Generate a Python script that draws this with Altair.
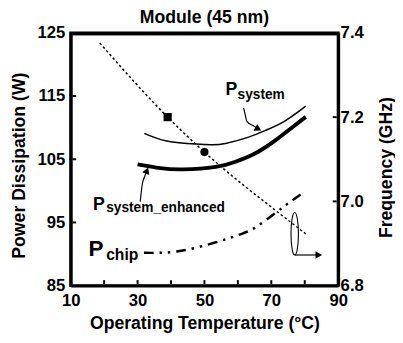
import altair as alt
import pandas as pd

FONT = "Liberation Sans"

# ---- series ----
sys_temp = [32.0, 38.7, 47.5, 52.0, 56.3, 63.2, 68.0, 73.9, 80.3]
sys_power = [109.1, 107.9, 107.4, 107.3, 107.5, 108.5, 109.5, 111.0, 113.4]

enh_temp = [30.0, 36.8, 43.6, 53.4, 59.3, 65.1, 71.0, 76.9, 80.3]
enh_power = [104.2, 103.6, 103.4, 103.8, 104.6, 105.9, 107.9, 110.3, 111.7]

chip_temp = [31.9, 41.7, 52.4, 61.2, 66.1, 71.5, 75.5, 80.0]
chip_power = [90.2, 90.4, 91.7, 93.2, 94.5, 96.6, 98.2, 99.9]

freq_temp = [18.7, 39.0, 50.0, 71.5, 80.3]
freq_ghz = [7.376, 7.200, 7.117, 6.977, 6.923]

marker_temp = [39.0, 50.0]
marker_ghz = [7.200, 7.117]
marker_shape = ["square", "circle"]

# ---- axis ranges and ticks ----
x_range = [10, 90]
p_range = [85, 125]
f_range = [6.8, 7.4]
x_ticks = [10, 30, 50, 70, 90]
p_ticks = [85, 95, 105, 115, 125]
f_ticks = [6.8, 7.0, 7.2, 7.4]

# inner tick marks (placed just inside the frame)
x_minor = [20.0, 30.0, 40.0, 50.0, 60.0, 70.0, 80.0]
x_minor_power = 85.25
p_minor = [95.0, 105.0, 115.0]
p_minor_temp = 10.45
f_minor = [7.0, 7.2]
f_minor_temp = 89.55

# top edge of the frame (kept just inside the plot range)
top_edge_temp = [10.3, 89.7]
top_edge_power = [124.85, 124.85]
top_edge_ghz = [7.398, 7.398]

# ---- annotation labels ----
lab_main = ["P", "P", "P"]
lab_main_temp = [56.3, 16.7, 15.3]
lab_main_power = [115.1, 97.0, 89.65]
lab_main_size = [18, 18, 23]
lab_sub = ["system", "system_enhanced", "chip"]
lab_sub_temp = [59.9, 20.6, 20.6]
lab_sub_power = [114.6, 96.7, 89.0]
lab_sub_size = [14, 14, 16]

# ---- annotation arrows ----
arr_sys_temp = [61.7, 62.0, 62.7, 64.6, 66.1]
arr_sys_power = [113.1, 112.5, 111.0, 110.3, 109.8]
arr_enh_temp = [30.8, 31.4, 32.3, 32.8]
arr_enh_power = [98.3, 101.0, 102.5, 103.2]
arr_freq_temp = [77.0, 84.2]
arr_freq_power = [89.85, 89.85]
head_temp = [66.1, 32.8, 84.2]
head_power = [109.8, 103.2, 89.85]
head_angle = [29, 291, 0]
ellipse_temp = [77.0]
ellipse_power = [93.2]

W, H = 273, 258

common_axis = dict(grid=False, domain=True, domainColor="black", domainWidth=3,
                   ticks=False, labelFontSize=17, labelFont=FONT, labelFontWeight="bold",
                   labelColor="black", labelOverlap=False,
                   titleFontSize=18, titleFont=FONT, titleFontWeight="bold",
                   titleColor="black")

x_axis = alt.Axis(values=x_ticks, title="Operating Temperature (°C)",
                  labelPadding=7, labelFlush=False, titleY=44,
                  titleBaseline="alphabetic", **common_axis)
x_scale = alt.Scale(domain=x_range, nice=False)
X = alt.X("t:Q", scale=x_scale, axis=x_axis)

p_axis = alt.Axis(values=p_ticks, orient="left", title="Power Dissipation (W)",
                  labelPadding=6, titleAngle=270, titleX=-47, titleY=135,
                  titleAlign="center", titleBaseline="alphabetic", **common_axis)
YP = alt.Y("p:Q", scale=alt.Scale(domain=p_range, nice=False), axis=p_axis)

f_axis = alt.Axis(values=f_ticks, orient="right", title="Frequency (GHz)", format=".1f",
                  labelPadding=2, titleAngle=270, titleX=54, titleY=137,
                  titleAlign="center", titleBaseline="alphabetic", **common_axis)
YF = alt.Y("f:Q", scale=alt.Scale(domain=f_range, nice=False), axis=f_axis)


def pdf(t, p, **kw):
    d = {"t": t, "p": p}
    d.update(kw)
    return pd.DataFrame(d)


top_line = alt.Chart(pdf(top_edge_temp, top_edge_power)).mark_line(
    color="black", strokeWidth=3, strokeCap="square", opacity=1).encode(x=X, y=YP)

x_minor_ticks = alt.Chart(pdf(x_minor, [x_minor_power] * len(x_minor))).mark_point(
    shape="M0,0L0,-1", filled=False, color="black", strokeWidth=2, size=64,
    opacity=1).encode(x=X, y=YP)
p_minor_ticks = alt.Chart(pdf([p_minor_temp] * len(p_minor), p_minor)).mark_point(
    shape="M0,0L1,0", filled=False, color="black", strokeWidth=2, size=64,
    opacity=1).encode(x=X, y=YP)

sys_line = alt.Chart(pdf(sys_temp, sys_power)).mark_line(
    color="black", strokeWidth=1.5, interpolate="natural").encode(x=X, y=YP)
enh_line = alt.Chart(pdf(enh_temp, enh_power)).mark_line(
    color="black", strokeWidth=4, interpolate="natural").encode(x=X, y=YP)
chip_line = alt.Chart(pdf(chip_temp, chip_power)).mark_line(
    color="black", strokeWidth=2.5, interpolate="natural",
    strokeDash=[10, 6, 2.5, 6, 2.5, 6]).encode(x=X, y=YP)

main_text = alt.Chart(pdf(lab_main_temp, lab_main_power, lab=lab_main, sz=lab_main_size)).mark_text(
    align="left", baseline="alphabetic", font=FONT, fontWeight="bold", color="black").encode(
    x=X, y=YP, text="lab:N", size=alt.Size("sz:Q", scale=None, legend=None))
sub_text = alt.Chart(pdf(lab_sub_temp, lab_sub_power, lab=lab_sub, sz=lab_sub_size)).mark_text(
    align="left", baseline="alphabetic", font=FONT, fontWeight="bold", color="black").encode(
    x=X, y=YP, text="lab:N", size=alt.Size("sz:Q", scale=None, legend=None))

arr1 = alt.Chart(pdf(arr_sys_temp, arr_sys_power)).mark_line(
    color="black", strokeWidth=1.2, interpolate="monotone").encode(x=X, y=YP)
arr2 = alt.Chart(pdf(arr_enh_temp, arr_enh_power)).mark_line(
    color="black", strokeWidth=1.2, interpolate="monotone").encode(x=X, y=YP)
arr3 = alt.Chart(pdf(arr_freq_temp, arr_freq_power)).mark_line(
    color="black", strokeWidth=1.2).encode(x=X, y=YP)
heads = alt.Chart(pdf(head_temp, head_power, ang=head_angle)).mark_point(
    shape="triangle-right", filled=True, color="black", size=60, opacity=1).encode(
    x=X, y=YP, angle=alt.Angle("ang:Q", scale=None))
ellipse = alt.Chart(pdf(ellipse_temp, ellipse_power)).mark_point(
    shape="M0,-1A0.175,1,0,1,1,0,1A0.175,1,0,1,1,0,-1Z", filled=False,
    color="black", strokeWidth=1.1, size=1884, opacity=1).encode(x=X, y=YP)

left = alt.layer(x_minor_ticks, p_minor_ticks, sys_line, enh_line, chip_line,
                 arr1, arr2, arr3, heads, ellipse, main_text, sub_text, top_line)

freq_line = alt.Chart(pd.DataFrame({"t": freq_temp, "f": freq_ghz})).mark_line(
    color="black", strokeWidth=1.5, strokeDash=[2.5, 2.5], interpolate="monotone").encode(x=X, y=YF)
markers = alt.Chart(pd.DataFrame({"t": marker_temp, "f": marker_ghz, "s": marker_shape})).mark_point(
    filled=True, color="black", size=70, opacity=1).encode(
    x=X, y=YF, shape=alt.Shape("s:N", scale=None, legend=None))
f_minor_ticks = alt.Chart(pd.DataFrame({"t": [f_minor_temp] * len(f_minor), "f": f_minor})).mark_point(
    shape="M0,0L-1,0", filled=False, color="black", strokeWidth=2, size=64,
    opacity=1).encode(x=X, y=YF)
top_line_f = alt.Chart(pd.DataFrame({"t": top_edge_temp, "f": top_edge_ghz})).mark_line(
    color="black", strokeWidth=3, strokeCap="square", opacity=1).encode(x=X, y=YF)

right = alt.layer(f_minor_ticks, freq_line, markers, top_line_f)

chart = alt.layer(left, right).resolve_scale(y="independent").properties(
    width=W, height=H,
    title=alt.TitleParams("Module (45 nm)", fontSize=18, fontWeight="bold", font=FONT,
                          color="black", anchor="middle", frame="group", offset=8, dy=11),
    padding={"left": 64, "top": 22, "right": 58, "bottom": 47},
    autosize=alt.AutoSizeParams(type="none"),
    background="white",
).configure_view(stroke="black", strokeWidth=3)

chart.save("out.html", embed_options={"renderer": "svg", "actions": False})
